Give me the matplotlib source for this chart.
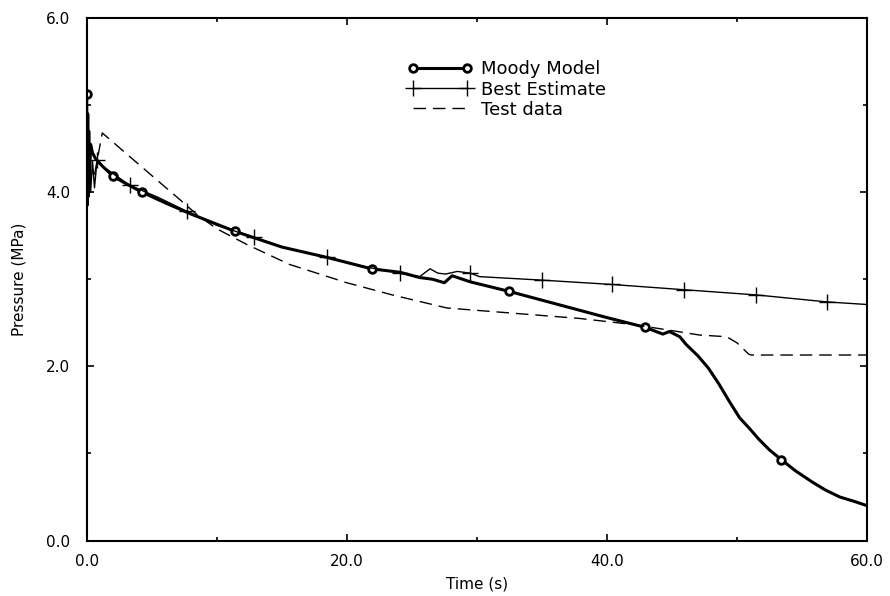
import numpy as np
import matplotlib
matplotlib.use('Agg')
import matplotlib.pyplot as plt
from matplotlib.ticker import MultipleLocator, FormatStrFormatter

# --- data ---
moody_t = [0.0, 0.04, 0.08, 0.12, 0.16, 0.2, 0.3, 0.45, 0.7, 1.2, 2.05, 3.0, 4.25,
           6.0, 8.0, 11.4, 15.0, 18.5, 21.9, 24.1, 25.6, 26.6, 27.5, 28.1, 29.5,
           32.5, 36.0, 40.0, 42.9, 44.3, 44.8, 45.6, 46.1, 47.0, 47.8, 48.6,
           49.4, 50.2, 51.0, 51.7, 52.5, 53.4, 54.5, 55.8, 56.8, 57.9, 59.0, 60.0]
moody_p = [5.13, 3.85, 4.90, 3.95, 4.70, 4.05, 4.55, 4.45, 4.38, 4.30, 4.18, 4.10, 4.00,
           3.88, 3.75, 3.55, 3.37, 3.25, 3.12, 3.08, 3.02, 3.00, 2.96, 3.04, 2.97,
           2.86, 2.72, 2.56, 2.45, 2.37, 2.40, 2.34, 2.25, 2.12, 1.98, 1.80,
           1.60, 1.41, 1.28, 1.16, 1.04, 0.93, 0.80, 0.67, 0.58, 0.50, 0.45, 0.40]
moody_mark_t = [0.0, 2.05, 4.25, 11.4, 21.9, 32.5, 42.9, 53.4]

best_t = [0.0, 0.1, 0.2, 0.3, 0.45, 0.6, 0.8, 1.2, 3.3, 5.5, 7.7, 10.0, 12.9,
          15.5, 18.5, 21.5, 24.1, 25.6, 26.4, 27.0, 27.6, 28.5, 29.5, 30.2,
          35.0, 40.4, 45.9, 51.5, 56.9, 60.0]
best_p = [4.30, 3.95, 4.45, 4.00, 4.35, 4.05, 4.37, 4.30, 4.08, 3.94, 3.78, 3.62, 3.48,
          3.35, 3.25, 3.14, 3.07, 3.03, 3.12, 3.07, 3.06, 3.09, 3.07, 3.03,
          2.99, 2.94, 2.88, 2.82, 2.74, 2.71]
best_mark_t = [0.8, 3.3, 7.7, 12.9, 18.5, 24.1, 29.5, 35.0, 40.4, 45.9, 51.5, 56.9]

test_t = [0.6, 1.2, 3.3, 5.4, 7.2, 8.5, 10.0, 12.3, 15.6, 20.0, 23.5, 27.7,
          32.8, 37.9, 42.0, 44.6, 47.1, 49.2, 50.0, 50.9, 51.1, 60.0]
test_p = [4.20, 4.68, 4.41, 4.14, 3.91, 3.74, 3.58, 3.40, 3.17, 2.96, 2.82, 2.67,
          2.61, 2.55, 2.48, 2.42, 2.36, 2.34, 2.27, 2.14, 2.13, 2.13]


def mark_idx(t, marks):
    return [i for i, v in enumerate(t) if v in marks]


fig = plt.figure(figsize=(8.9, 5.96), dpi=100)
ax = fig.add_axes([0.0974, 0.0931, 0.8768, 0.8767])

ax.plot(moody_t, moody_p, color='black', lw=2.2, marker='o', ms=5.5,
        mfc='white', mec='black', mew=2.0,
        markevery=mark_idx(moody_t, moody_mark_t), label='Moody Model')
ax.plot(best_t, best_p, color='black', lw=1.0, marker='+', ms=12, mew=1.0,
        markevery=mark_idx(best_t, best_mark_t), label='Best Estimate')
ax.plot(test_t, test_p, color='black', lw=1.0, dashes=(9, 5), label='Test data')

ax.set_xlim(0, 60)
ax.set_ylim(0, 6)
ax.xaxis.set_major_locator(MultipleLocator(20))
ax.xaxis.set_minor_locator(MultipleLocator(10))
ax.yaxis.set_major_locator(MultipleLocator(2))
ax.yaxis.set_minor_locator(MultipleLocator(1))
ax.xaxis.set_major_formatter(FormatStrFormatter('%.1f'))
ax.yaxis.set_major_formatter(FormatStrFormatter('%.1f'))
ax.tick_params(which='both', direction='in', top=True, right=True, labelsize=11)
ax.tick_params(which='major', length=5, width=1.2)
ax.tick_params(which='minor', length=3, width=1.2)
ax.tick_params(axis='x', pad=10)
ax.tick_params(axis='y', pad=12)
for s in ax.spines.values():
    s.set_linewidth(1.5)

ax.set_xlabel('Time (s)', fontsize=11, labelpad=5)
ax.set_ylabel('Pressure (MPa)', fontsize=11, labelpad=14)

ax.legend(loc='upper left', bbox_to_anchor=(0.39, 0.95), frameon=False,
          fontsize=13, numpoints=2, handlelength=3.6, handletextpad=0.5,
          labelspacing=0.12)

fig.savefig('out.png', dpi=100)
